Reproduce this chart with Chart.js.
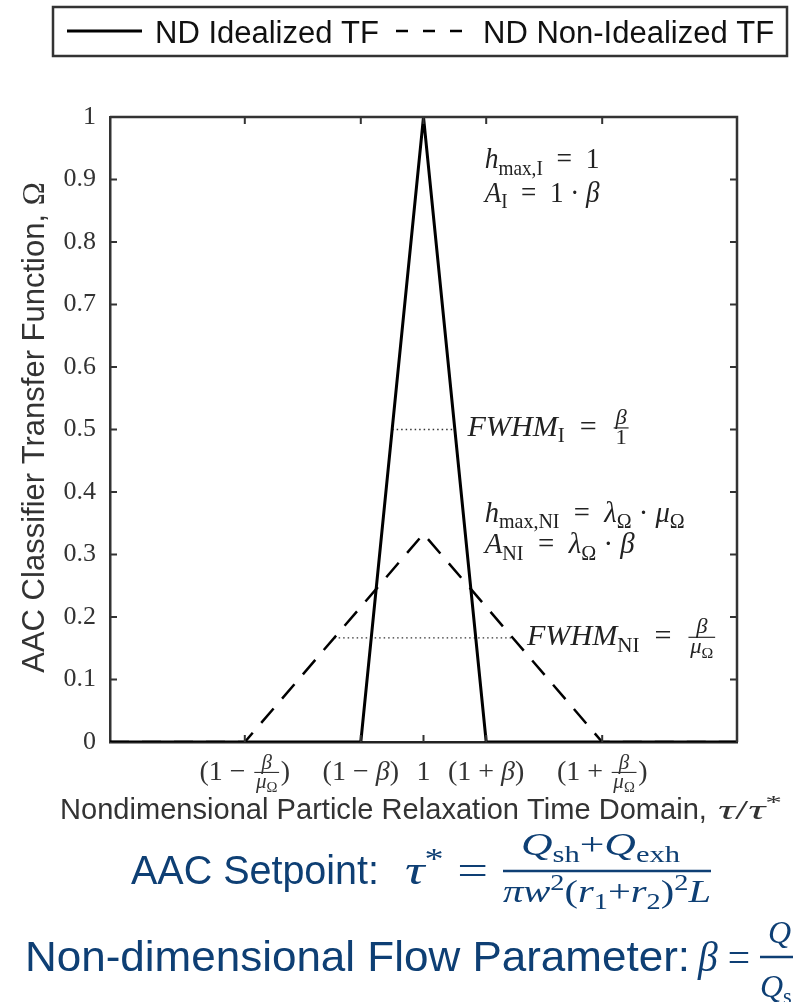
<!DOCTYPE html>
<html>
<head>
<meta charset="utf-8">
<script src="https://cdn.jsdelivr.net/npm/chart.js@4.4.0/dist/chart.umd.min.js"></script>
<style>
  html, body { margin: 0; padding: 0; background: #fff; }
  canvas { display: block; }
</style>
</head>
<body>
<canvas id="graficoTF" width="793" height="1002"></canvas>
<script>
// valores
const seriesNames = ['ND Idealized TF', 'ND Non-Idealized TF'];
const idealX = [0, 0.8, 1.0, 1.2, 2.0];
const idealY = [0, 0, 1.0, 0, 0];
const nonIdealX = [0, 0.43, 1.0, 1.57, 2.0];
const nonIdealY = [0, 0, 0.333, 0, 0];
const fwhmIdealX = [0.9, 1.1];
const fwhmIdealY = [0.5, 0.5];
const fwhmNonIdealX = [0.715, 1.285];
const fwhmNonIdealY = [0.1667, 0.1667];
const xTickVals = [0.43, 0.8, 1.0, 1.2, 1.57];
const xTickLabels = ['(1 − β/μΩ)', '(1 − β)', '1', '(1 + β)', '(1 + β/μΩ)'];
const yTickVals = [0, 0.1, 0.2, 0.3, 0.4, 0.5, 0.6, 0.7, 0.8, 0.9, 1];
const yTickLabels = ['0', '0.1', '0.2', '0.3', '0.4', '0.5', '0.6', '0.7', '0.8', '0.9', '1'];

const toPoints = (xs, ys) => xs.map((x, i) => ({ x: x, y: ys[i] }));

const INK = '#222';
const BLUE = '#0e3f74';
const SANS = '"Liberation Sans", Arial, sans-serif';

// --- helpers para texto matematico ---
function mathFont(it, size) {
    return (it ? 'italic ' : '') + size + 'px "Liberation Serif", "DejaVu Serif", serif';
}
function partWidth(c, p, size) {
    if (p.frac) {
        const fs = size * 0.75;
        return Math.max(runWidth(c, p.frac[0], fs), runWidth(c, p.frac[1], fs)) + size * 0.24;
    }
    if (p.gap) return p.gap * size;
    const s = (p.sub || p.sup) ? size * 0.7 : size;
    c.font = mathFont(p.i, s);
    return c.measureText(p.t).width;
}
function runWidth(c, parts, size) {
    let w = 0;
    parts.forEach(p => { w += partWidth(c, p, size); });
    return w;
}
function drawRun(c, parts, x, y, size) {
    parts.forEach(p => {
        const w = partWidth(c, p, size);
        if (p.frac) {
            const fs = size * 0.75;
            const axis = y - size * 0.27;
            const nw = runWidth(c, p.frac[0], fs);
            const dw = runWidth(c, p.frac[1], fs);
            drawRun(c, p.frac[0], x + (w - nw) / 2, axis - size * 0.14, fs);
            drawRun(c, p.frac[1], x + (w - dw) / 2, axis + size * 0.54, fs);
            c.save();
            c.lineWidth = Math.max(1, size * 0.04);
            c.beginPath();
            c.moveTo(x + size * 0.06, axis);
            c.lineTo(x + w - size * 0.06, axis);
            c.stroke();
            c.restore();
        } else if (!p.gap) {
            const s = (p.sub || p.sup) ? size * 0.7 : size;
            const dy = p.sub ? size * 0.22 : (p.sup ? -size * 0.38 : 0);
            c.font = mathFont(p.i, s);
            c.fillText(p.t, x, y + dy);
        }
        x += w;
    });
}
// convierte una etiqueta del eje x en partes
function parseLabel(str) {
    const parts = [];
    const idx = str.indexOf('β/μΩ');
    const plain = s => {
        for (const ch of s) {
            parts.push({ t: ch, i: ch === 'β' || ch === 'μ' });
        }
    };
    if (idx >= 0) {
        plain(str.slice(0, idx));
        parts.push({ frac: [[{ t: 'β', i: true }], [{ t: 'μ', i: true }, { t: 'Ω', sub: true }]] });
        plain(str.slice(idx + 4));
    } else {
        plain(str);
    }
    return parts;
}
function fitText(c, text, x, y, width) {
    const nat = c.measureText(text).width;
    c.save();
    c.translate(x, y);
    c.scale(width / nat, 1);
    c.fillText(text, 0, 0);
    c.restore();
}
function fitRun(c, parts, x, y, size, width) {
    const nat = runWidth(c, parts, size);
    c.save();
    c.translate(x, y);
    c.scale(width / nat, 1);
    drawRun(c, parts, 0, 0, size);
    c.restore();
}

// anotaciones en coordenadas de datos
const annotations = [
    { x: 1.195, y: 0.918, w: 115, parts: [{ t: 'h', i: true }, { t: 'max,I', sub: true }, { t: '  =  1' }] },
    { x: 1.195, y: 0.864, w: 115, parts: [{ t: 'A', i: true }, { t: 'I', sub: true }, { t: '  =  1 · ' }, { t: 'β', i: true }] },
    { x: 1.14, y: 0.49, w: 163, parts: [{ t: 'FWHM', i: true }, { t: 'I', sub: true }, { t: '  =  ' }, { frac: [[{ t: 'β', i: true }], [{ t: '1' }]] }] },
    { x: 1.195, y: 0.352, w: 200, parts: [{ t: 'h', i: true }, { t: 'max,NI', sub: true }, { t: '  =  ' }, { t: 'λ', i: true }, { t: 'Ω', sub: true }, { t: ' · ' }, { t: 'μ', i: true }, { t: 'Ω', sub: true }] },
    { x: 1.195, y: 0.302, w: 150, parts: [{ t: 'A', i: true }, { t: 'NI', sub: true }, { t: '  =  ' }, { t: 'λ', i: true }, { t: 'Ω', sub: true }, { t: ' · ' }, { t: 'β', i: true }] },
    { x: 1.33, y: 0.155, w: 190, parts: [{ t: 'FWHM', i: true }, { t: 'NI', sub: true }, { t: '  =  ' }, { frac: [[{ t: 'β', i: true }], [{ t: 'μ', i: true }, { t: 'Ω', sub: true }]] }] }
];

const decorPlugin = {
    id: 'decor',
    afterDraw(chart) {
        const c = chart.ctx;
        const xs = chart.scales.x, ys = chart.scales.y;
        const a = chart.chartArea;
        c.save();
        c.strokeStyle = '#333';
        c.fillStyle = INK;

        // caja superior y derecha + marcas hacia dentro
        c.lineWidth = 2.5;
        c.beginPath();
        c.moveTo(a.left, a.top); c.lineTo(a.right, a.top); c.lineTo(a.right, a.bottom);
        c.stroke();
        c.lineWidth = 2;
        yTickVals.slice(1, -1).forEach(v => {
            const py = ys.getPixelForValue(v);
            c.beginPath();
            c.moveTo(a.left, py); c.lineTo(a.left + 7, py);
            c.moveTo(a.right, py); c.lineTo(a.right - 7, py);
            c.stroke();
        });
        xTickVals.forEach(v => {
            const px = xs.getPixelForValue(v);
            c.beginPath();
            c.moveTo(px, a.bottom); c.lineTo(px, a.bottom - 7);
            c.moveTo(px, a.top); c.lineTo(px, a.top + 7);
            c.stroke();
        });

        // etiquetas del eje x
        c.fillStyle = '#333';
        c.strokeStyle = '#333';
        xTickVals.forEach((v, i) => {
            const parts = parseLabel(xTickLabels[i]);
            const size = 28;
            const w = runWidth(c, parts, size);
            drawRun(c, parts, xs.getPixelForValue(v) - w / 2, a.bottom + 38, size);
        });

        // titulos de ejes
        c.font = '30px ' + SANS;
        c.fillStyle = '#333';
        fitText(c, 'Nondimensional Particle Relaxation Time Domain, ', 60, a.bottom + 77, 655);
        fitRun(c, [{ t: 'τ', i: true }, { t: '/' }, { t: 'τ', i: true }, { t: '*', sup: true }], 718, a.bottom + 77, 27, 64);

        c.save();
        c.translate(44, (a.top + a.bottom) / 2 - 2);
        c.rotate(-Math.PI / 2);
        c.font = '31px ' + SANS;
        const yt = 'AAC Classifier Transfer Function, ';
        const ytw = c.measureText(yt).width;
        c.font = mathFont(false, 31);
        const omw = c.measureText('Ω').width;
        c.font = '31px ' + SANS;
        c.fillText(yt, -(ytw + omw) / 2, 0);
        c.font = mathFont(false, 31);
        c.fillText('Ω', -(ytw + omw) / 2 + ytw, 0);
        c.restore();

        // anotaciones
        c.fillStyle = INK;
        c.strokeStyle = INK;
        annotations.forEach(an => {
            fitRun(c, an.parts, xs.getPixelForValue(an.x), ys.getPixelForValue(an.y), 29, an.w);
        });

        // leyenda
        const ds = chart.data.datasets;
        c.strokeStyle = '#333';
        c.lineWidth = 2.5;
        c.strokeRect(53, 7, 734, 49);
        c.font = '31px ' + SANS;
        c.fillStyle = '#111';
        const items = [
            { ds: ds[0], x0: 67, x1: 142, tx: 155, dash: [] },
            { ds: ds[1], x0: 396, x1: 463, tx: 483, dash: [12, 15] }
        ];
        items.forEach(it => {
            c.save();
            c.strokeStyle = it.ds.borderColor;
            c.lineWidth = it.ds.borderWidth;
            c.setLineDash(it.dash);
            c.beginPath();
            c.moveTo(it.x0, 31); c.lineTo(it.x1, 31);
            c.stroke();
            c.restore();
            c.fillText(it.ds.label, it.tx, 43);
        });

        // formulas en azul
        c.fillStyle = BLUE;
        c.strokeStyle = BLUE;
        c.font = '41px ' + SANS;
        fitText(c, 'AAC Setpoint:', 131, 884, 248);
        fitRun(c, [{ t: 'τ', i: true }, { t: '*', sup: true }, { t: ' =' }], 405, 884, 42, 83);
        fitRun(c, [{ t: 'Q', i: true }, { t: 'sh', sub: true }, { t: '+' }, { t: 'Q', i: true }, { t: 'exh', sub: true }], 521, 855, 32, 159);
        fitRun(c, [{ t: 'πw', i: true }, { t: '2', sup: true }, { t: '(' }, { t: 'r', i: true }, { t: '1', sub: true }, { t: '+' }, { t: 'r', i: true }, { t: '2', sub: true }, { t: ')' }, { t: '2', sup: true }, { t: 'L', i: true }], 503, 902, 32, 208);
        c.lineWidth = 2.5;
        c.beginPath(); c.moveTo(503, 871); c.lineTo(711, 871); c.stroke();

        c.font = '43px ' + SANS;
        fitText(c, 'Non-dimensional Flow Parameter:', 25, 971, 665);
        fitRun(c, [{ t: 'β', i: true }, { t: ' =' }], 698, 971, 42, 52);
        drawRun(c, [{ t: 'Q', i: true }], 768, 943, 32);
        drawRun(c, [{ t: 'Q', i: true }, { t: 's', sub: true }], 760, 997, 32);
        c.beginPath(); c.moveTo(760, 957); c.lineTo(800, 957); c.stroke();

        c.restore();
    }
};

new Chart(document.getElementById('graficoTF'), {
    type: 'line',
    data: {
        datasets: [
            {
                label: seriesNames[0],
                data: toPoints(idealX, idealY),
                borderColor: '#000',
                borderWidth: 3,
                pointRadius: 0,
                tension: 0
            },
            {
                label: seriesNames[1],
                data: toPoints(nonIdealX, nonIdealY),
                borderColor: '#000',
                borderWidth: 2.5,
                borderDash: [19, 13],
                pointRadius: 0,
                tension: 0
            },
            {
                label: 'FWHM I',
                data: toPoints(fwhmIdealX, fwhmIdealY),
                borderColor: '#333',
                borderWidth: 1.3,
                borderDash: [1.5, 3],
                pointRadius: 0
            },
            {
                label: 'FWHM NI',
                data: toPoints(fwhmNonIdealX, fwhmNonIdealY),
                borderColor: '#333',
                borderWidth: 1.3,
                borderDash: [1.5, 3],
                pointRadius: 0
            }
        ]
    },
    options: {
        responsive: false,
        animation: false,
        devicePixelRatio: 1,
        layout: { padding: { top: 117, right: 56, left: 0, bottom: 0 } },
        plugins: {
            legend: { display: false },
            tooltip: { enabled: false }
        },
        scales: {
            x: {
                type: 'linear',
                min: 0,
                max: 2,
                afterBuildTicks: s => { s.ticks = xTickVals.map(v => ({ value: v })); },
                afterFit: s => { s.height = 260; },
                ticks: { display: false },
                grid: { drawOnChartArea: false, drawTicks: false },
                border: { color: '#222', width: 2.5 }
            },
            y: {
                type: 'linear',
                min: 0,
                max: 1,
                afterBuildTicks: s => { s.ticks = yTickVals.map(v => ({ value: v })); },
                afterFit: s => { s.width = 110; },
                ticks: {
                    padding: 14,
                    color: '#333',
                    font: { family: '"Liberation Serif", serif', size: 26 },
                    callback: (v, i) => yTickLabels[i]
                },
                grid: { drawOnChartArea: false, drawTicks: false },
                border: { color: '#333', width: 2.5 }
            }
        }
    },
    plugins: [decorPlugin]
});
</script>
</body>
</html>
